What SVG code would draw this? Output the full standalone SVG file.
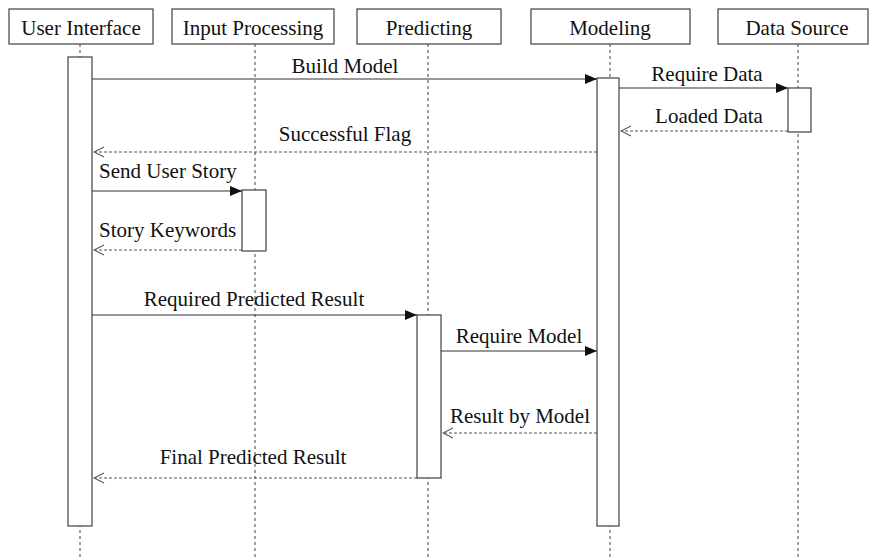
<svg xmlns="http://www.w3.org/2000/svg" width="870" height="557" viewBox="0 0 870 557">
<style>
.hdr{fill:#fff;stroke:#404040;stroke-width:1.2}
.act{fill:#fff;stroke:#404040;stroke-width:1.2}
.life{stroke:#404040;stroke-width:1;stroke-dasharray:3,3;fill:none}
.msg{stroke:#333;stroke-width:1.2;fill:none}
.ret{stroke:#555;stroke-width:1.1;stroke-dasharray:3,2;fill:none}
.t{font-family:'Liberation Serif','Tinos','Times New Roman','Times','DejaVu Serif','Noto Serif',serif;font-size:21px;fill:#111}
.c{text-anchor:middle}
</style>
<defs>
<marker id="solid" markerWidth="12" markerHeight="10" refX="12" refY="5" orient="auto" markerUnits="userSpaceOnUse">
<path d="M0,0 L12,5 L0,10 Z" fill="#111"/>
</marker>
<marker id="open" markerWidth="12" markerHeight="12" refX="11" refY="6" orient="auto" markerUnits="userSpaceOnUse">
<path d="M1,1 L11,6 L1,11" fill="none" stroke="#555" stroke-width="1.1"/>
</marker>
</defs>
<rect width="870" height="557" fill="#fff"/>

<g id="user-interface">
<line class="life" x1="80" y1="44" x2="80" y2="557"/>
<rect class="hdr" x="9" y="9" width="144" height="35"/>
<text class="t c" x="81" y="35">User Interface</text>
<rect class="act" x="68" y="57" width="24" height="469"/>
</g>

<g id="input-processing">
<line class="life" x1="255" y1="44" x2="255" y2="557"/>
<rect class="hdr" x="172" y="9" width="162" height="35"/>
<text class="t c" x="253" y="35">Input Processing</text>
<rect class="act" x="242" y="190" width="24" height="61"/>
</g>

<g id="predicting">
<line class="life" x1="428" y1="44" x2="428" y2="557"/>
<rect class="hdr" x="357" y="9" width="144" height="35"/>
<text class="t c" x="429" y="35">Predicting</text>
<rect class="act" x="417" y="315" width="24" height="163"/>
</g>

<g id="modeling">
<line class="life" x1="610" y1="44" x2="610" y2="557"/>
<rect class="hdr" x="531" y="9" width="159" height="35"/>
<text class="t c" x="610" y="35">Modeling</text>
<rect class="act" x="597" y="78" width="22" height="448"/>
</g>

<g id="data-source">
<line class="life" x1="798" y1="44" x2="798" y2="557"/>
<rect class="hdr" x="718" y="9" width="150" height="35"/>
<text class="t c" x="797" y="35">Data Source</text>
<rect class="act" x="788" y="88" width="23" height="44"/>
</g>

<g id="connectors">
<line class="msg" x1="92" y1="79" x2="597" y2="79" marker-end="url(#solid)"/>
<text class="t c" x="345" y="73">Build Model</text>

<line class="msg" x1="619" y1="88" x2="788" y2="88" marker-end="url(#solid)"/>
<text class="t c" x="707" y="81">Require Data</text>

<line class="ret" x1="788" y1="131" x2="621" y2="131" marker-end="url(#open)"/>
<text class="t c" x="709" y="123">Loaded Data</text>

<line class="ret" x1="597" y1="152" x2="94" y2="152" marker-end="url(#open)"/>
<text class="t c" x="345" y="141">Successful Flag</text>

<line class="msg" x1="92" y1="191" x2="242" y2="191" marker-end="url(#solid)"/>
<text class="t" x="99" y="178">Send User Story</text>

<line class="ret" x1="242" y1="250" x2="94" y2="250" marker-end="url(#open)"/>
<text class="t" x="99" y="237">Story Keywords</text>

<line class="msg" x1="92" y1="315" x2="417" y2="315" marker-end="url(#solid)"/>
<text class="t c" x="254" y="306">Required Predicted Result</text>

<line class="msg" x1="441" y1="351" x2="597" y2="351" marker-end="url(#solid)"/>
<text class="t c" x="519" y="343">Require Model</text>

<line class="ret" x1="597" y1="433" x2="443" y2="433" marker-end="url(#open)"/>
<text class="t c" x="520" y="423">Result by Model</text>

<line class="ret" x1="417" y1="478" x2="94" y2="478" marker-end="url(#open)"/>
<text class="t c" x="253" y="464">Final Predicted Result</text>
</g>
</svg>
